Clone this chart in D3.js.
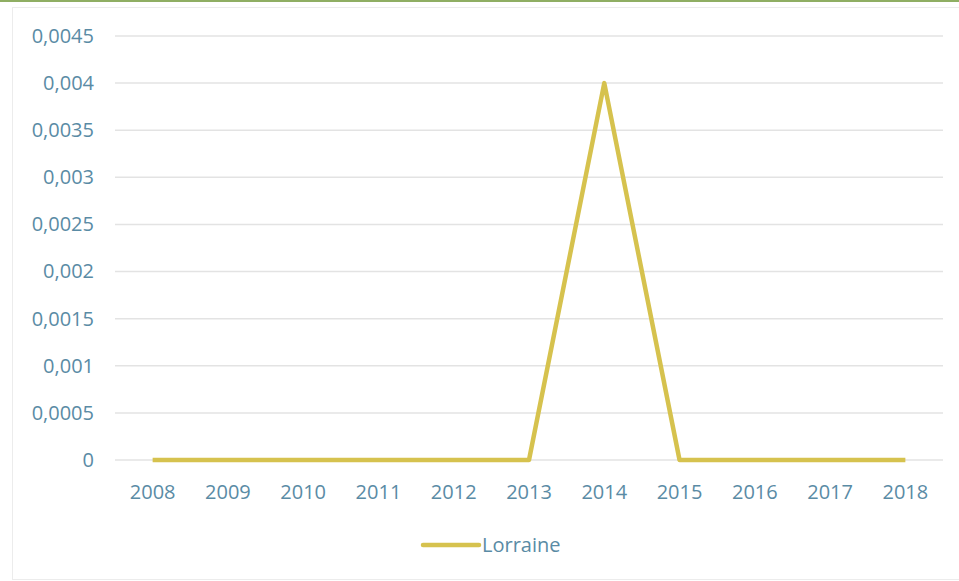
<!DOCTYPE html>
<html>
<head>
<meta charset="utf-8">
<script src="https://cdn.jsdelivr.net/npm/d3@7"></script>
<style>
    body { margin: 0; background: #fff; }
    text { font-family: "Open Sans", sans-serif; }
</style>
</head>
<body>
<div id="chart"></div>
<script>
const years = ['2008', '2009', '2010', '2011', '2012', '2013', '2014', '2015', '2016', '2017', '2018'];
const lorraine = [0, 0, 0, 0, 0, 0, 0.004, 0, 0, 0, 0];
const yTicks = [0, 0.0005, 0.001, 0.0015, 0.002, 0.0025, 0.003, 0.0035, 0.004, 0.0045];
const seriesName = 'Lorraine';

const W = 959, H = 581;
const textColor = '#5a8ba5';
const lineColor = '#d6c24e';
const gridColor = '#e3e3e3';
const fontSize = '20px';

const svg = d3.select('#chart')
    .append('svg')
    .attr('width', W)
    .attr('height', H);

// green rule at top and light frame
svg.append('rect').attr('x', 0).attr('y', 0).attr('width', W).attr('height', 2).attr('fill', '#8fae63');
svg.append('rect')
    .attr('x', 12.5).attr('y', 7.5)
    .attr('width', W).attr('height', H - 9)
    .attr('fill', 'none')
    .attr('stroke', '#ececec');

const xScale = d3.scaleBand()
    .domain(years)
    .range([115, 943]);

const yScale = d3.scaleLinear()
    .domain([0, 0.0045])
    .range([460, 36]);

const fmt = d => String(d).replace('.', ',');

// gridlines
svg.append('g')
    .selectAll('line')
    .data(yTicks)
    .enter()
    .append('line')
    .attr('x1', 115)
    .attr('x2', 943)
    .attr('y1', d => yScale(d))
    .attr('y2', d => yScale(d))
    .attr('stroke', gridColor)
    .attr('stroke-width', 1.5);

// y axis labels
const yAxis = svg.append('g')
    .attr('transform', 'translate(94, 0)')
    .call(d3.axisLeft(yScale).tickValues(yTicks).tickFormat(fmt).tickSize(0));
yAxis.select('.domain').remove();
yAxis.selectAll('text')
    .attr('x', 0)
    .style('font-size', fontSize)
    .style('font-family', '"Open Sans", sans-serif')
    .attr('fill', textColor);

// x axis labels
const xAxis = svg.append('g')
    .attr('transform', 'translate(0, 460)')
    .call(d3.axisBottom(xScale).tickSize(0));
xAxis.select('.domain').remove();
xAxis.selectAll('text')
    .attr('dy', 0)
    .attr('y', 39)
    .style('font-size', fontSize)
    .style('font-family', '"Open Sans", sans-serif')
    .attr('fill', textColor);

// series line
const line = d3.line()
    .x((d, i) => xScale(years[i]) + xScale.bandwidth() / 2)
    .y(d => yScale(d));

svg.append('path')
    .datum(lorraine)
    .attr('fill', 'none')
    .attr('stroke', lineColor)
    .attr('stroke-width', 4.5)
    .attr('stroke-linejoin', 'round')
    .attr('d', line);

// legend
const legend = svg.append('g').attr('transform', 'translate(423, 545)');
legend.append('line')
    .attr('x1', 0).attr('x2', 56)
    .attr('y1', 0).attr('y2', 0)
    .attr('stroke', lineColor)
    .attr('stroke-width', 4.5)
    .attr('stroke-linecap', 'round');
legend.append('text')
    .attr('x', 59)
    .attr('y', 0)
    .attr('dy', '0.35em')
    .style('font-size', fontSize)
    .attr('fill', textColor)
    .text(seriesName);
</script>
</body>
</html>
